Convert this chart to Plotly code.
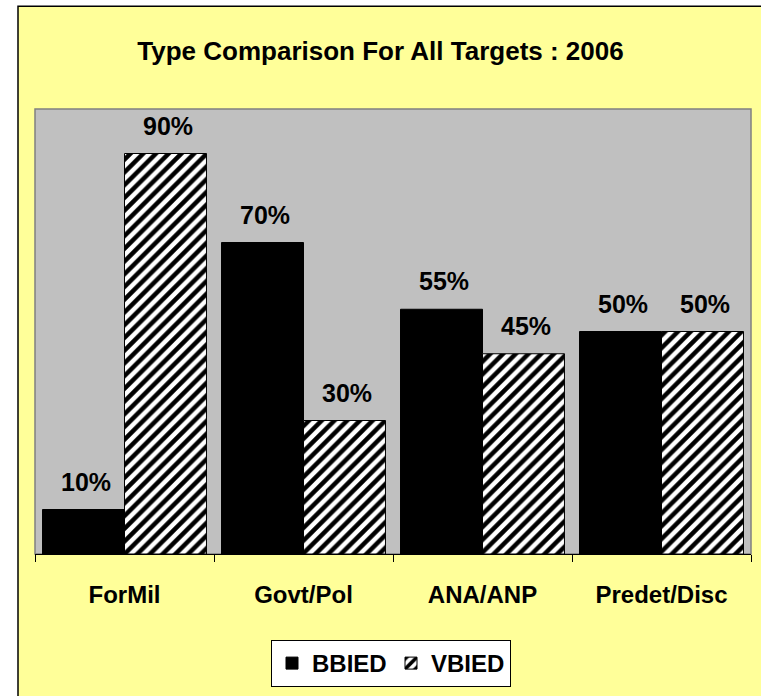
import plotly.graph_objects as go

categories = ["ForMil", "Govt/Pol", "ANA/ANP", "Predet/Disc"]
bbied = [10, 70, 55, 50]
vbied = [90, 30, 45, 50]
series_names = ["BBIED", "VBIED"]
title_text = "Type Comparison For All Targets : 2006"

W, H = 761, 696
ML, MR, MT, MB = 35, 10, 109, 141
PW = W - ML - MR
PH = H - MT - MB

def px2x(px):
    return (px - ML) / PW

def px2y(py):
    return (H - MB - py) / PH

FONT = "Liberation Sans, Arial, sans-serif"

fig = go.Figure()
fig.add_trace(go.Bar(
    x=categories, y=bbied, name=series_names[0],
    marker=dict(color="black", line=dict(color="black", width=1)),
))
fig.add_trace(go.Bar(
    x=categories, y=vbied, name=series_names[1],
    marker=dict(color="white", line=dict(color="black", width=1),
                pattern=dict(shape="/", fgcolor="#000000", bgcolor="white",
                             fgopacity=1, size=9, solidity=0.5)),
))

annotations = []
for vals, shift in ((bbied, -41), (vbied, 41)):
    for c, v in zip(categories, vals):
        annotations.append(dict(
            x=c, y=v, xref="x", yref="y", text=f"{v}%", showarrow=False,
            xshift=shift + 2, yshift=28, yanchor="middle",
            font=dict(family=FONT, size=25, color="black", weight="bold"),
        ))

shapes = [
    # outer yellow chart area with border
    dict(type="rect", xref="paper", yref="paper",
         x0=px2x(18), x1=px2x(800), y0=px2y(740), y1=px2y(6),
         fillcolor="#FFFF99", line=dict(color="black", width=1.5), layer="below"),
    # gray plot area
    dict(type="rect", xref="paper", yref="paper", x0=0, x1=1, y0=0, y1=1,
         fillcolor="#C0C0C0", line=dict(color="#808080", width=1.5), layer="below"),
]

fig.update_layout(
    width=W, height=H,
    margin=dict(l=ML, r=MR, t=MT, b=MB, pad=0),
    paper_bgcolor="white",
    plot_bgcolor="rgba(0,0,0,0)",
    barmode="group", bargap=0.084, bargroupgap=0,
    title=dict(text=title_text, x=0.5, xanchor="center", xref="container",
               y=1 - 51 / H, yanchor="middle",
               font=dict(family=FONT, size=26, color="black", weight="bold")),
    showlegend=True,
    legend=dict(orientation="h", x=px2x(391), xanchor="center",
                y=px2y(640), yanchor="top",
                bgcolor="white", bordercolor="black", borderwidth=1,
                font=dict(family=FONT, size=24, color="black", weight="bold"),
                itemwidth=30, entrywidth=74),
    xaxis=dict(showline=True, linecolor="black", linewidth=1,
               ticks="outside", tickson="boundaries", ticklen=7,
               tickcolor="black", showgrid=False,
               tickfont=dict(family=FONT, size=24, color="black", weight="bold"),
               ticklabelstandoff=19),
    yaxis=dict(range=[0, 100], visible=False, showgrid=False),
    annotations=annotations,
    shapes=shapes,
)

fig.write_html("out.html", config={"displayModeBar": False},
               post_script="document.body.style.margin='0';document.body.style.overflow='hidden';")
